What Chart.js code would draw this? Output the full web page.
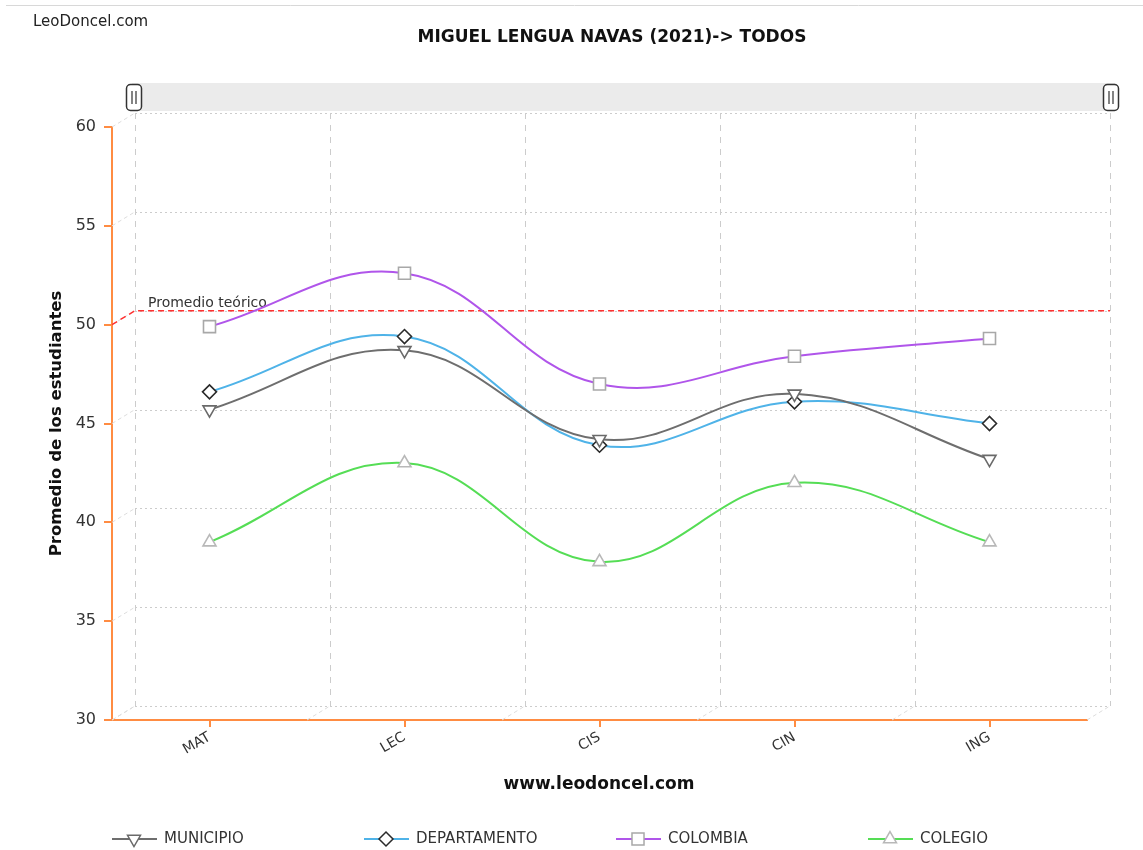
<!DOCTYPE html>
<html>
<head>
<meta charset="utf-8">
<script src="https://cdn.jsdelivr.net/npm/chart.js@4.4.1/dist/chart.umd.min.js"></script>
<style>
  body { margin: 0; background: #fff; }
  canvas { display: block; }
</style>
</head>
<body>
<canvas id="grafico" width="1143" height="850"></canvas>
<script>
// datos
const categorias = ['MAT', 'LEC', 'CIS', 'CIN', 'ING'];
const municipio = [45.7, 48.7, 44.2, 46.5, 43.2];
const departamento = [46.6, 49.4, 43.9, 46.1, 45.0];
const colombia = [49.9, 52.6, 47.0, 48.4, 49.3];
const colegio = [39, 43, 38, 42, 39];
const promedioTeorico = 50;
const yTicks = [30, 35, 40, 45, 50, 55, 60];

const NARANJA = '#ff8c42';
const FUENTE = '"DejaVu Sans", Verdana, sans-serif';
const DX = 23, DY = -14; // profundidad del plano de fondo

// series con su estilo
const series = [
    { label: 'MUNICIPIO', data: municipio, color: '#6e6e6e', punto: 'triangle', rot: 180, borde: '#6a6a6a', r: 7.5 },
    { label: 'DEPARTAMENTO', data: departamento, color: '#4fb3e8', punto: 'rectRot', rot: 0, borde: '#2a2a2a', r: 7 },
    { label: 'COLOMBIA', data: colombia, color: '#b055ea', punto: 'rect', rot: 0, borde: '#a8a8a8', r: 8.5 },
    { label: 'COLEGIO', data: colegio, color: '#55dd55', punto: 'triangle', rot: 0, borde: '#b8b8b8', r: 7.5 }
];

// plano de fondo, linea de promedio y barra de zoom
const fondo3D = {
    id: 'fondo3D',
    beforeDatasetsDraw(chart) {
        const ctx = chart.ctx;
        const a = chart.chartArea;
        const y = chart.scales.y;
        const banda = (a.right - a.left) / categorias.length;
        ctx.save();
        ctx.lineWidth = 1;

        // lineas horizontales punteadas
        ctx.strokeStyle = '#cccccc';
        ctx.setLineDash([2, 3]);
        yTicks.forEach(v => {
            const py = Math.round(y.getPixelForValue(v) + DY) + 0.5;
            ctx.beginPath();
            ctx.moveTo(a.left + DX, py);
            ctx.lineTo(a.right + DX, py);
            ctx.stroke();
        });

        // lineas verticales discontinuas
        ctx.setLineDash([6, 6]);
        for (let k = 0; k <= categorias.length; k++) {
            const px = Math.round(a.left + k * banda + DX) + 0.5;
            ctx.beginPath();
            ctx.moveTo(px, a.top + DY);
            ctx.lineTo(px, a.bottom + DY);
            ctx.stroke();
        }

        // lineas de profundidad
        ctx.strokeStyle = '#dddddd';
        ctx.setLineDash([4, 3]);
        yTicks.forEach(v => {
            const py = y.getPixelForValue(v);
            ctx.beginPath();
            ctx.moveTo(a.left, py);
            ctx.lineTo(a.left + DX, py + DY);
            ctx.stroke();
        });
        for (let k = 0; k <= categorias.length; k++) {
            const px = a.left + k * banda;
            ctx.beginPath();
            ctx.moveTo(px, a.bottom);
            ctx.lineTo(px + DX, a.bottom + DY);
            ctx.stroke();
        }

        // promedio teorico
        const p = y.getPixelForValue(promedioTeorico);
        ctx.strokeStyle = '#ff3030';
        ctx.lineWidth = 1.5;
        ctx.setLineDash([6, 4]);
        ctx.beginPath();
        ctx.moveTo(a.left, p);
        ctx.lineTo(a.left + DX, p + DY);
        ctx.lineTo(a.right + DX, p + DY);
        ctx.stroke();
        ctx.setLineDash([]);
        ctx.fillStyle = '#333';
        ctx.font = '14px ' + FUENTE;
        ctx.textBaseline = 'alphabetic';
        ctx.fillText('Promedio teórico', a.left + 36, p + DY - 4);

        // barra de desplazamiento
        ctx.fillStyle = '#ebebeb';
        ctx.fillRect(a.left + 20, 83, a.right + DX - a.left - 15, 28);
        [a.left + 22, a.right + DX + 1].forEach(cx => {
            ctx.fillStyle = '#fff';
            ctx.strokeStyle = '#333';
            ctx.lineWidth = 1.5;
            ctx.beginPath();
            ctx.roundRect(cx - 7.5, 84.5, 15, 26, 4);
            ctx.fill();
            ctx.stroke();
            ctx.lineWidth = 1.2;
            ctx.beginPath();
            ctx.moveTo(cx - 2, 91); ctx.lineTo(cx - 2, 104);
            ctx.moveTo(cx + 2, 91); ctx.lineTo(cx + 2, 104);
            ctx.stroke();
        });
        ctx.restore();
    },
    afterDraw(chart) {
        const ctx = chart.ctx;
        const a = chart.chartArea;
        ctx.save();
        ctx.fillStyle = '#111';

        // borde superior
        ctx.strokeStyle = '#d8d8d8';
        ctx.lineWidth = 1;
        ctx.beginPath();
        ctx.moveTo(6, 5.5); ctx.lineTo(1143, 5.5);
        ctx.stroke();

        ctx.textBaseline = 'middle';
        ctx.font = '15px ' + FUENTE;
        ctx.textAlign = 'left';
        ctx.fillStyle = '#222';
        ctx.fillText('LeoDoncel.com', 33, 22);

        ctx.fillStyle = '#111';
        ctx.font = 'bold 17px ' + FUENTE;
        ctx.textAlign = 'center';
        ctx.fillText('MIGUEL LENGUA NAVAS (2021)-> TODOS', 612, 38);
        ctx.fillText('www.leodoncel.com', 599, 785);

        ctx.save();
        ctx.translate(57, (a.top + a.bottom) / 2);
        ctx.rotate(-Math.PI / 2);
        ctx.font = 'bold 16.5px ' + FUENTE;
        ctx.fillText('Promedio de los estudiantes', 0, 0);
        ctx.restore();

        // leyenda
        ctx.font = '15px ' + FUENTE;
        ctx.textAlign = 'left';
        series.forEach((s, i) => {
            const x0 = 112 + i * 252, yl = 839;
            ctx.strokeStyle = s.color;
            ctx.lineWidth = 1.8;
            ctx.beginPath();
            ctx.moveTo(x0, yl); ctx.lineTo(x0 + 45, yl);
            ctx.stroke();
            ctx.fillStyle = '#fff';
            ctx.strokeStyle = s.borde;
            ctx.lineWidth = 1.5;
            Chart.helpers.drawPoint(ctx, {
                pointStyle: s.punto, rotation: s.rot,
                radius: s.r, borderWidth: 1.5
            }, x0 + 22, yl);
            ctx.fillStyle = '#333';
            ctx.fillText(s.label, x0 + 52, yl);
        });
        ctx.restore();
    }
};

new Chart(document.getElementById('grafico'), {
    type: 'line',
    data: {
        labels: categorias,
        datasets: series.map(s => ({
            label: s.label,
            data: s.data,
            borderColor: s.color,
            borderWidth: 2,
            tension: 0.4,
            fill: false,
            pointStyle: s.punto,
            pointRotation: s.rot,
            pointRadius: s.r,
            pointBackgroundColor: '#fff',
            pointBorderColor: s.borde,
            pointBorderWidth: 1.6
        }))
    },
    options: {
        responsive: false,
        animation: false,
        layout: { padding: { top: 127, right: 56, left: 0, bottom: 0 } },
        plugins: {
            legend: { display: false },
            title: { display: false },
            tooltip: { enabled: false }
        },
        scales: {
            x: {
                offset: true,
                afterFit: s => { s.height = 130; },
                grid: { drawOnChartArea: false, color: NARANJA, lineWidth: 2, tickLength: 7 },
                border: { color: NARANJA, width: 2 },
                ticks: {
                    minRotation: 30, maxRotation: 30, padding: 2,
                    color: '#333', font: { family: FUENTE, size: 14 }
                }
            },
            y: {
                min: 30, max: 60,
                afterFit: s => { s.width = 112; },
                afterBuildTicks: s => { s.ticks = yTicks.map(v => ({ value: v })); },
                grid: { drawOnChartArea: false, color: NARANJA, lineWidth: 2, tickLength: 8 },
                border: { color: NARANJA, width: 2 },
                ticks: { padding: 8, color: '#333', font: { family: FUENTE, size: 16 } }
            }
        }
    },
    plugins: [fondo3D]
});
</script>
</body>
</html>
